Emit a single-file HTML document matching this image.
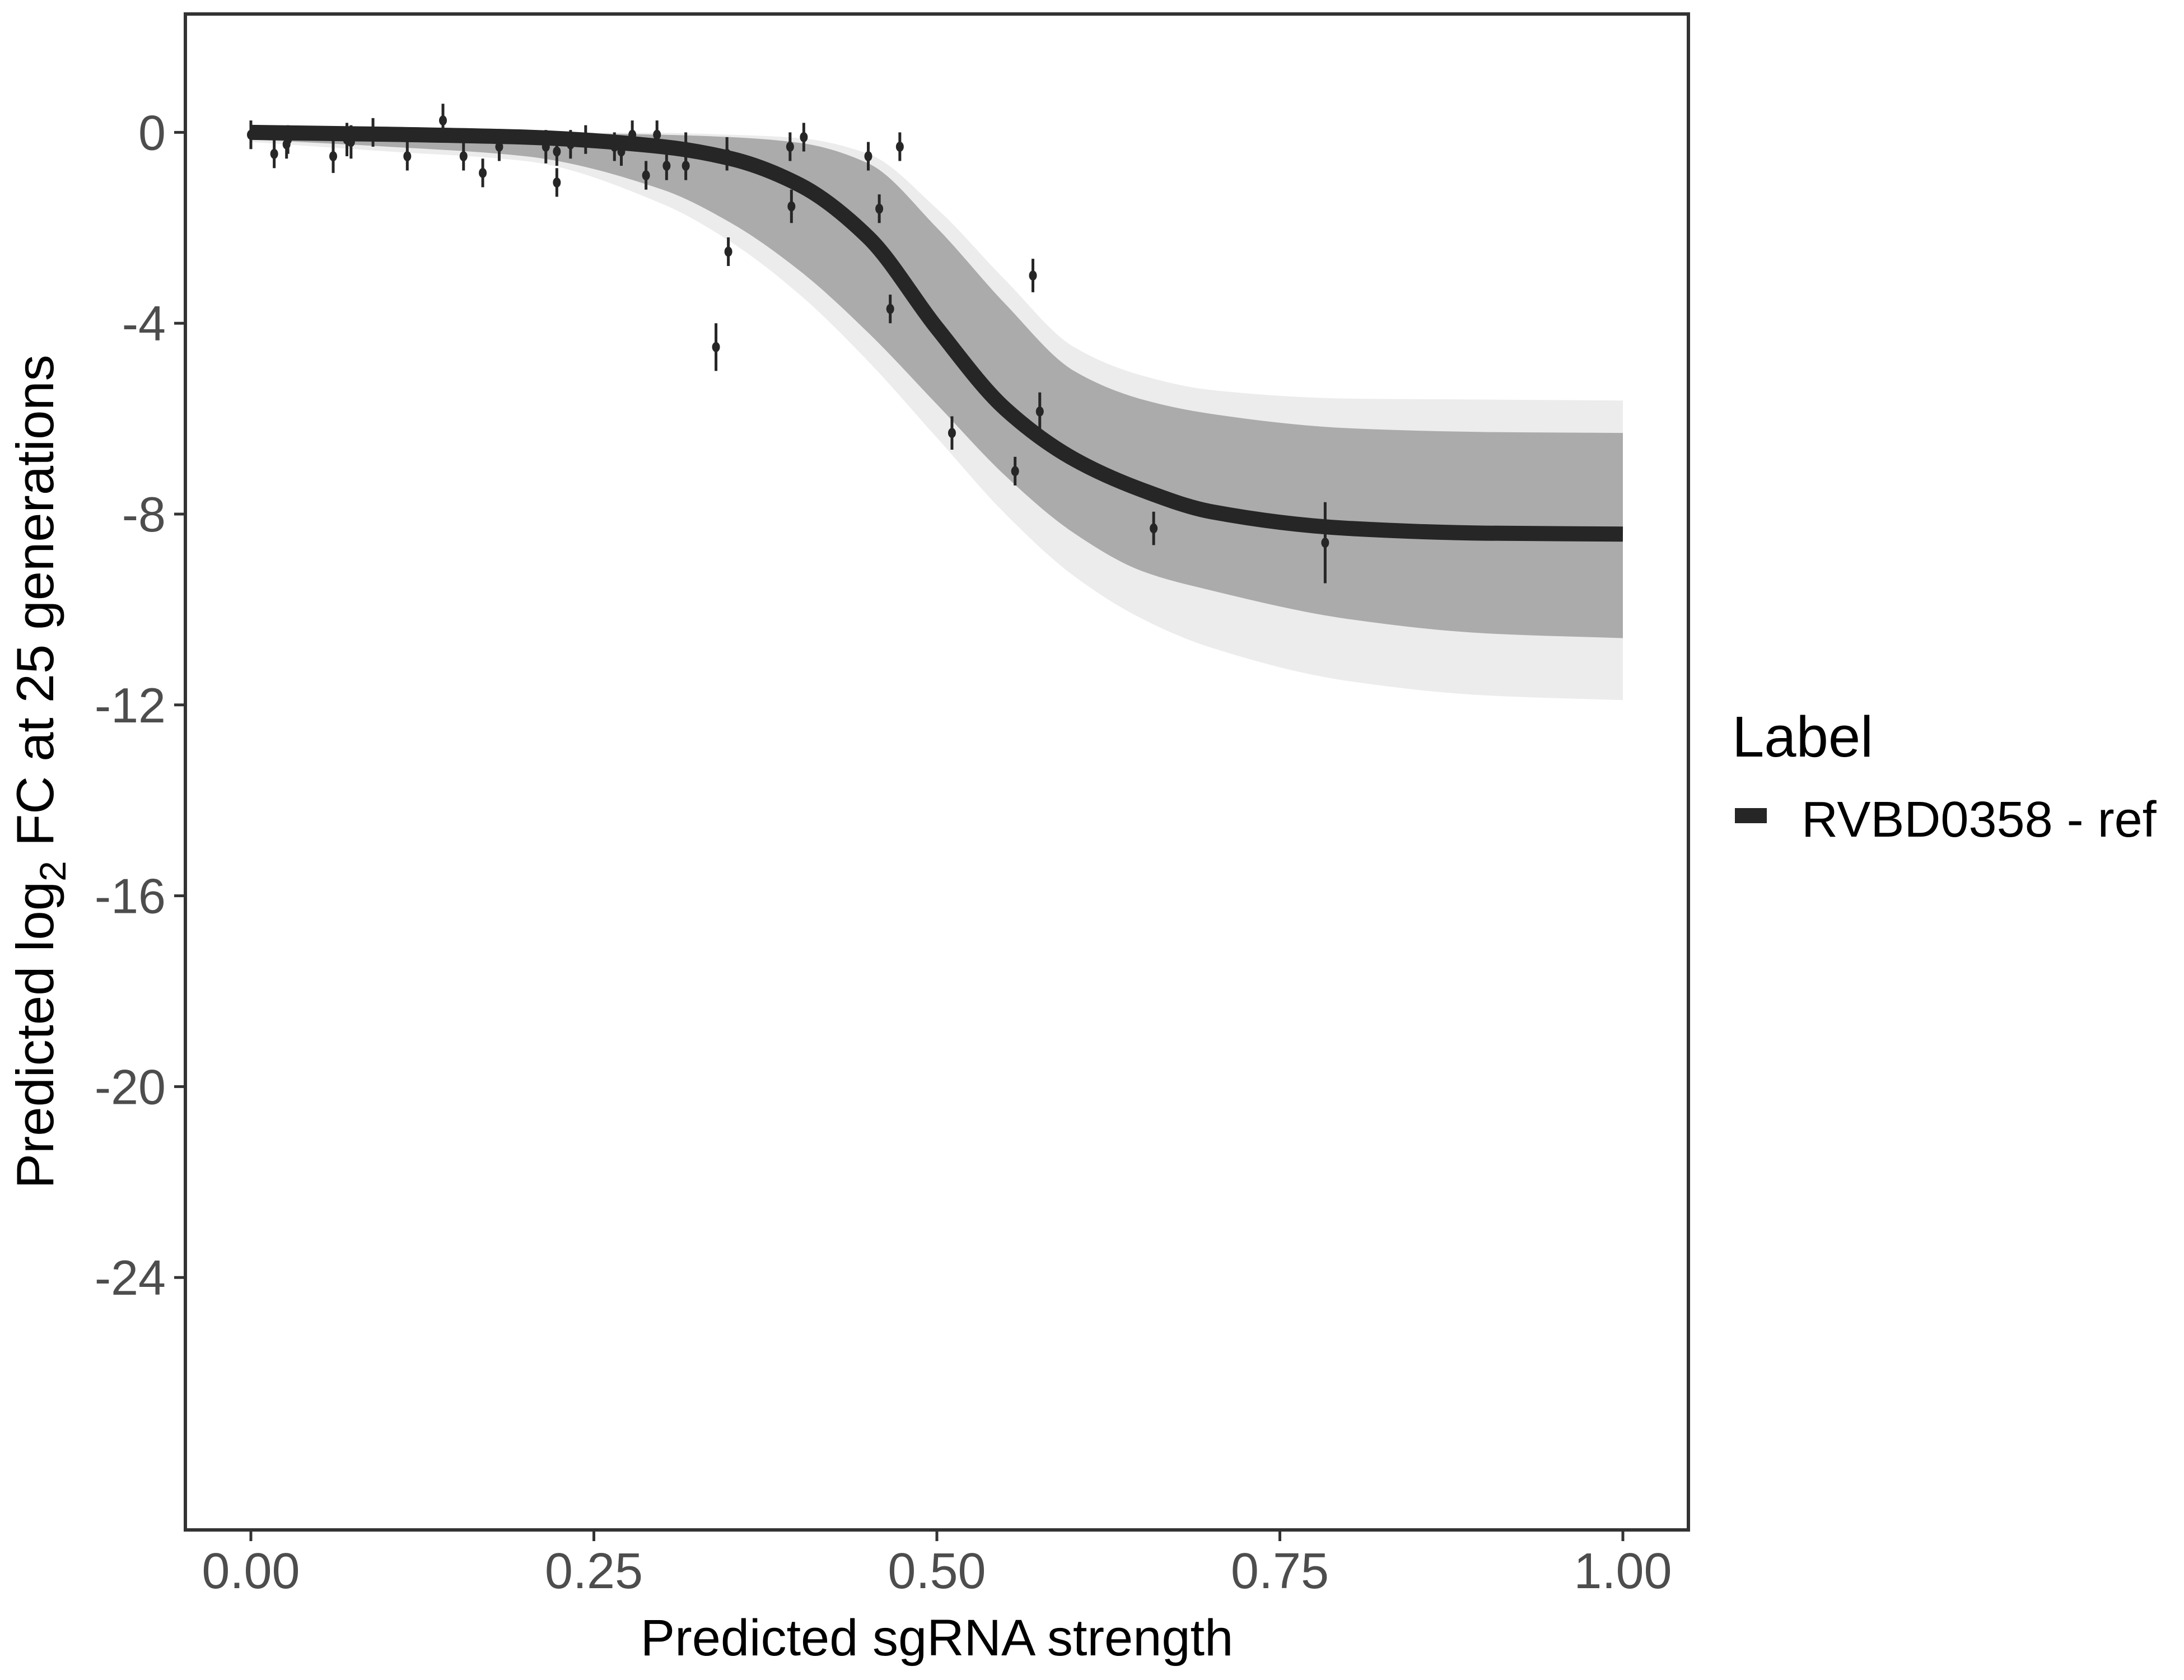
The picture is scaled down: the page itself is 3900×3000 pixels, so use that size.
<!DOCTYPE html>
<html><head><meta charset="utf-8"><style>
html,body{margin:0;padding:0;background:#fff;}
svg{display:block;font-family:"Liberation Sans",sans-serif;}
</style></head><body>
<svg id="chart" width="3900" height="3000" viewBox="0 0 3900 3000">
<g id="band"></g>
<g id="fit"></g>
<g id="pts"></g>
<rect x="331" y="25" width="2684" height="2707" fill="none" stroke="#333" stroke-width="6"/>
<g id="axes"></g>
<text x="1673" y="2956" font-size="92" fill="#000" text-anchor="middle">Predicted sgRNA strength</text>
<text transform="translate(95,1378) rotate(-90)" font-size="94" fill="#000" text-anchor="middle">Predicted  log<tspan font-size="66" dy="22">2</tspan><tspan dy="-22"> FC at 25 generations</tspan></text>
<text x="3093" y="1351" font-size="103" fill="#000">Label</text>
<rect x="3098" y="1443" width="57" height="27" fill="#262626"/>
<text x="3217" y="1494" font-size="90" fill="#000">RVBD0358 - ref</text>
</svg>
<script>
const gridX=[0,0.1,0.2,0.3,0.35,0.4,0.45,0.5,0.55,0.6,0.65,0.7,0.8,0.9,1.0];
const fitY=[0,-0.04,-0.1,-0.3,-0.55,-1.1,-2.2,-4.1,-5.8,-6.85,-7.5,-7.95,-8.3,-8.4,-8.42];
const upperY=[0,0,-0.01,-0.05,-0.1,-0.22,-0.65,-2.0,-3.6,-5.0,-5.6,-5.9,-6.2,-6.28,-6.3];
const lowerY=[-0.15,-0.3,-0.5,-1.2,-1.9,-2.9,-4.2,-5.7,-7.2,-8.4,-9.2,-9.6,-10.2,-10.5,-10.6];
const outerUpperY=[0,0,0,-0.01,-0.05,-0.12,-0.45,-1.6,-3.1,-4.5,-5.1,-5.4,-5.58,-5.6,-5.62];
const outerLowerY=[-0.2,-0.4,-0.6,-1.5,-2.3,-3.4,-4.8,-6.4,-8.0,-9.3,-10.2,-10.8,-11.5,-11.8,-11.9];
const ptX=[0,0.017,0.026,0.027,0.06,0.07,0.073,0.089,0.114,0.14,0.155,0.169,0.181,0.215,0.223,0.223,0.233,0.244,0.265,0.27,0.278,0.288,0.296,0.303,0.317,0.317,0.347,0.339,0.348,0.393,0.394,0.403,0.45,0.458,0.466,0.473,0.511,0.557,0.57,0.575,0.658,0.783];
const ptY=[-0.05,-0.45,-0.25,-0.15,-0.5,-0.15,-0.2,0,-0.5,0.25,-0.5,-0.85,-0.3,-0.3,-0.4,-1.05,-0.25,-0.15,-0.3,-0.4,-0.05,-0.9,-0.05,-0.7,-0.3,-0.7,-0.45,-4.5,-2.5,-0.3,-1.55,-0.1,-0.5,-1.6,-3.7,-0.3,-6.3,-7.1,-3.0,-5.85,-8.3,-8.6];
const ptErr=[0.3,0.3,0.3,0.3,0.35,0.35,0.35,0.3,0.3,0.35,0.3,0.3,0.3,0.35,0.3,0.3,0.3,0.3,0.3,0.3,0.3,0.3,0.3,0.3,0.3,0.3,0.35,0.5,0.3,0.3,0.35,0.3,0.3,0.3,0.3,0.3,0.35,0.3,0.35,0.4,0.35,0.85];
const xTicks=[0,0.25,0.5,0.75,1.0];
const xTickLabels=["0.00","0.25","0.50","0.75","1.00"];
const yTicks=[0,-4,-8,-12,-16,-20,-24];
const yTickLabels=["0","-4","-8","-12","-16","-20","-24"];
const NS="http://www.w3.org/2000/svg";
const sx=v=>448+v*2450;
const sy=v=>236.4-v*85.2;
function pts(xs,ys){return xs.map((x,i)=>[sx(x),sy(ys[i])]);}
// monotone cubic (Fritsch-Carlson)
function smooth(p){
 const n=p.length,d=[],m=[];
 for(let i=0;i<n-1;i++)d.push((p[i+1][1]-p[i][1])/(p[i+1][0]-p[i][0]));
 m[0]=d[0];m[n-1]=d[n-2];
 for(let i=1;i<n-1;i++){m[i]=(d[i-1]*d[i]<=0)?0:3*(p[i+1][0]-p[i-1][0])/((2*p[i+1][0]-p[i][0]-p[i-1][0])/d[i-1]+(p[i+1][0]+p[i][0]-2*p[i-1][0])/d[i]);}
 let s="M"+p[0][0]+","+p[0][1];
 for(let i=0;i<n-1;i++){const h=(p[i+1][0]-p[i][0])/3;s+=" C"+(p[i][0]+h)+","+(p[i][1]+m[i]*h)+" "+(p[i+1][0]-h)+","+(p[i+1][1]-m[i+1]*h)+" "+p[i+1][0]+","+p[i+1][1];}
 return s;
}
function smoothRev(p){
 const n=p.length,d=[],m=[];
 for(let i=0;i<n-1;i++)d.push((p[i+1][1]-p[i][1])/(p[i+1][0]-p[i][0]));
 m[0]=d[0];m[n-1]=d[n-2];
 for(let i=1;i<n-1;i++){m[i]=(d[i-1]*d[i]<=0)?0:3*(p[i+1][0]-p[i-1][0])/((2*p[i+1][0]-p[i][0]-p[i-1][0])/d[i-1]+(p[i+1][0]+p[i][0]-2*p[i-1][0])/d[i]);}
 let s="L"+p[n-1][0]+","+p[n-1][1];
 for(let i=n-1;i>0;i--){const h=(p[i][0]-p[i-1][0])/3;s+=" C"+(p[i][0]-h)+","+(p[i][1]-m[i]*h)+" "+(p[i-1][0]+h)+","+(p[i-1][1]+m[i-1]*h)+" "+p[i-1][0]+","+p[i-1][1];}
 return s;
}
function bandPath(u,l){return smooth(pts(gridX,u))+" "+smoothRev(pts(gridX,l))+" Z";}
const band=document.getElementById('band');
let e=document.createElementNS(NS,'path');e.setAttribute('d',bandPath(outerUpperY,outerLowerY));e.setAttribute('fill','#ececec');


band.appendChild(e);
e=document.createElementNS(NS,'path');e.setAttribute('d',bandPath(upperY,lowerY));e.setAttribute('fill','#ababab');


band.appendChild(e);
const fit=document.getElementById('fit');
e=document.createElementNS(NS,'path');e.setAttribute('d',smooth(pts(gridX,fitY)));e.setAttribute('fill','none');e.setAttribute('stroke','#262626');e.setAttribute('stroke-width','27');


fit.appendChild(e);
const pg=document.getElementById('pts');
ptX.forEach((x,i)=>{
 const l=document.createElementNS(NS,'line');
 l.setAttribute('x1',sx(x));l.setAttribute('x2',sx(x));l.setAttribute('y1',sy(ptY[i]+ptErr[i]));l.setAttribute('y2',sy(ptY[i]-ptErr[i]));l.setAttribute('stroke','#262626');l.setAttribute('stroke-width','5');
 
 
 pg.appendChild(l);
 const c=document.createElementNS(NS,'ellipse');
 c.setAttribute('cx',sx(x));c.setAttribute('cy',sy(ptY[i]));c.setAttribute('rx','7');c.setAttribute('ry','9');c.setAttribute('fill','#262626');
 
 
 pg.appendChild(c);
});
const ax=document.getElementById('axes');
xTicks.forEach((v,i)=>{
 const t=document.createElementNS(NS,'line');t.setAttribute('x1',sx(v));t.setAttribute('x2',sx(v));t.setAttribute('y1',2732);t.setAttribute('y2',2752);t.setAttribute('stroke','#333');t.setAttribute('stroke-width','5');
 
 
 ax.appendChild(t);
 const s=document.createElementNS(NS,'text');s.setAttribute('x',sx(v));s.setAttribute('y',2836);s.setAttribute('text-anchor','middle');s.setAttribute('font-size','90');s.setAttribute('fill','#4d4d4d');s.textContent=xTickLabels[i];
 
 
 ax.appendChild(s);
});
yTicks.forEach((v,i)=>{
 const t=document.createElementNS(NS,'line');t.setAttribute('x1',311);t.setAttribute('x2',331);t.setAttribute('y1',sy(v));t.setAttribute('y2',sy(v));t.setAttribute('stroke','#333');t.setAttribute('stroke-width','5');
 
 
 ax.appendChild(t);
 const s=document.createElementNS(NS,'text');s.setAttribute('x',296);s.setAttribute('y',sy(v)+31);s.setAttribute('text-anchor','end');s.setAttribute('font-size','88');s.setAttribute('fill','#4d4d4d');s.textContent=yTickLabels[i];
 
 
 ax.appendChild(s);
});
</script>
</body></html>
